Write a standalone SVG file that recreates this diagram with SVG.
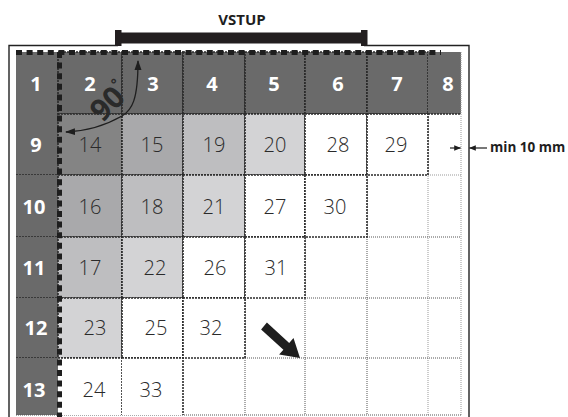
<svg xmlns="http://www.w3.org/2000/svg" width="568" height="417" viewBox="0 0 568 417">
<defs>
<style>
.hd{fill:#6a6a6a}
.c1{fill:#848484}
.c2{fill:#a9a9ab}
.c3{fill:#bebec0}
.c4{fill:#d3d3d5}
.c5{fill:#ffffff}
.perf{fill:none;stroke:#2a2a2a;stroke-width:1.6;stroke-dasharray:2 1}
.dot{fill:none;stroke:#555;stroke-width:1;stroke-dasharray:1 1}
.lt{fill:none;stroke:#999;stroke-width:1;stroke-dasharray:1 1}
.thick{fill:none;stroke:#1e1e1e;stroke-width:5;stroke-dasharray:6 4.6}
.hn{font-family:"Open Sans","Liberation Sans",sans-serif;font-weight:700;font-size:20px;fill:#ffffff;text-anchor:middle}
.n{font-family:"Open Sans","Liberation Sans",sans-serif;font-weight:300;font-size:20px;fill:#2a2a2a;text-anchor:middle}
.lbl{font-family:"Open Sans","Liberation Sans",sans-serif;font-weight:700;fill:#1e1e1e}
</style>
<marker id="ah" viewBox="0 0 10 10" refX="9" refY="5" markerWidth="7" markerHeight="7" orient="auto-start-reverse" markerUnits="userSpaceOnUse">
<path d="M0,1 L10,5 L0,9 z" fill="#1e1e1e"/>
</marker>
<marker id="ah2" viewBox="0 0 10 10" refX="9" refY="5" markerWidth="10" markerHeight="10" orient="auto-start-reverse" markerUnits="userSpaceOnUse">
<path d="M0,1.5 L10,5 L0,8.5 z" fill="#1e1e1e"/>
</marker>
</defs>
<rect width="568" height="417" fill="#ffffff"/>

<!-- frame and entry bar -->
<g id="frame">
<path d="M9,417 V45.5 H118 M364,45.5 H469 V417" fill="none" stroke="#222" stroke-width="1.4"/>
<rect x="118" y="32.5" width="246" height="11" fill="#231f20"/>
<rect x="115" y="30" width="6.5" height="16" fill="#231f20"/>
<rect x="361" y="30" width="6.5" height="16" fill="#231f20"/>
<text x="242" y="25" class="lbl" text-anchor="middle" font-size="15">VSTUP</text>
</g>

<!-- header row -->
<g id="h1"><rect x="16" y="52" width="42" height="62" class="hd"/><text x="36" y="91" class="hn">1</text></g>
<g id="h2"><rect x="58" y="52" width="64" height="62" class="hd"/><rect x="58" y="52" width="64" height="62" class="perf"/><text x="90" y="91" class="hn">2</text></g>
<g id="h3"><rect x="122" y="52" width="61" height="62" class="hd"/><rect x="122" y="52" width="61" height="62" class="perf"/><text x="153" y="91" class="hn">3</text></g>
<g id="h4"><rect x="183" y="52" width="62" height="62" class="hd"/><rect x="183" y="52" width="62" height="62" class="perf"/><text x="212" y="91" class="hn">4</text></g>
<g id="h5"><rect x="245" y="52" width="60" height="62" class="hd"/><rect x="245" y="52" width="60" height="62" class="perf"/><text x="274" y="91" class="hn">5</text></g>
<g id="h6"><rect x="305" y="52" width="62" height="62" class="hd"/><rect x="305" y="52" width="62" height="62" class="perf"/><text x="338" y="91" class="hn">6</text></g>
<g id="h7"><rect x="367" y="52" width="61" height="62" class="hd"/><rect x="367" y="52" width="61" height="62" class="perf"/><text x="397" y="91" class="hn">7</text></g>
<g id="h8"><rect x="428" y="52" width="33" height="62" class="hd"/><path d="M428,114 H461" class="perf"/><text x="448" y="91" class="hn">8</text></g>

<!-- left column -->
<g id="r9"><rect x="16" y="114" width="42" height="61" class="hd"/><path d="M16,175 H58" class="perf"/><text x="36" y="152" class="hn">9</text></g>
<g id="r10"><rect x="16" y="175" width="42" height="62" class="hd"/><path d="M16,237 H58" class="perf"/><text x="34" y="214" class="hn">10</text></g>
<g id="r11"><rect x="16" y="237" width="42" height="61" class="hd"/><path d="M16,298 H58" class="perf"/><text x="34" y="275" class="hn">11</text></g>
<g id="r12"><rect x="16" y="298" width="42" height="60" class="hd"/><path d="M16,358 H58" class="perf"/><text x="36" y="335" class="hn">12</text></g>
<g id="r13"><rect x="16" y="358" width="42" height="57" class="hd"/><text x="34" y="397" class="hn">13</text></g>

<!-- empty area dotted grid -->
<g id="empty">
<path d="M428,114 V415 M461,52 V415 M428,175 H461" class="lt"/>
<path d="M367,175 V415 M305,237 V415 M245,298 V415 M367,237 H461 M305,298 H461 M245,358 H461 M16,415 H461" class="dot"/>
</g>

<!-- numbered cells -->
<g id="c14"><rect x="58" y="114" width="64" height="61" class="c1"/><rect x="58" y="114" width="64" height="61" class="perf"/><text x="90" y="152" class="n">14</text></g>
<g id="c15"><rect x="122" y="114" width="61" height="61" class="c2"/><rect x="122" y="114" width="61" height="61" class="perf"/><text x="152" y="152" class="n">15</text></g>
<g id="c19"><rect x="183" y="114" width="62" height="61" class="c3"/><rect x="183" y="114" width="62" height="61" class="perf"/><text x="214" y="152" class="n">19</text></g>
<g id="c20"><rect x="245" y="114" width="60" height="61" class="c4"/><rect x="245" y="114" width="60" height="61" class="perf"/><text x="275" y="152" class="n">20</text></g>
<g id="c28"><rect x="305" y="114" width="62" height="61" class="c5"/><rect x="305" y="114" width="62" height="61" class="perf"/><text x="338" y="152" class="n">28</text></g>
<g id="c29"><rect x="367" y="114" width="61" height="61" class="c5"/><rect x="367" y="114" width="61" height="61" class="perf"/><text x="396" y="152" class="n">29</text></g>

<g id="c16"><rect x="58" y="175" width="64" height="62" class="c2"/><rect x="58" y="175" width="64" height="62" class="perf"/><text x="90" y="214" class="n">16</text></g>
<g id="c18"><rect x="122" y="175" width="61" height="62" class="c3"/><rect x="122" y="175" width="61" height="62" class="perf"/><text x="152" y="214" class="n">18</text></g>
<g id="c21"><rect x="183" y="175" width="62" height="62" class="c4"/><rect x="183" y="175" width="62" height="62" class="perf"/><text x="214" y="214" class="n">21</text></g>
<g id="c27"><rect x="245" y="175" width="60" height="62" class="c5"/><rect x="245" y="175" width="60" height="62" class="perf"/><text x="275" y="214" class="n">27</text></g>
<g id="c30"><rect x="305" y="175" width="62" height="62" class="c5"/><rect x="305" y="175" width="62" height="62" class="perf"/><text x="335" y="214" class="n">30</text></g>

<g id="c17"><rect x="58" y="237" width="64" height="61" class="c3"/><rect x="58" y="237" width="64" height="61" class="perf"/><text x="90" y="275" class="n">17</text></g>
<g id="c22"><rect x="122" y="237" width="61" height="61" class="c4"/><rect x="122" y="237" width="61" height="61" class="perf"/><text x="155" y="275" class="n">22</text></g>
<g id="c26"><rect x="183" y="237" width="62" height="61" class="c5"/><rect x="183" y="237" width="62" height="61" class="perf"/><text x="215" y="275" class="n">26</text></g>
<g id="c31"><rect x="245" y="237" width="60" height="61" class="c5"/><rect x="245" y="237" width="60" height="61" class="perf"/><text x="276" y="275" class="n">31</text></g>

<g id="c23"><rect x="58" y="298" width="64" height="60" class="c4"/><rect x="58" y="298" width="64" height="60" class="perf"/><text x="95" y="335" class="n">23</text></g>
<g id="c25"><rect x="122" y="298" width="61" height="60" class="c5"/><rect x="122" y="298" width="61" height="60" class="perf"/><text x="156" y="335" class="n">25</text></g>
<g id="c32"><rect x="183" y="298" width="62" height="60" class="c5"/><rect x="183" y="298" width="62" height="60" class="perf"/><text x="211" y="335" class="n">32</text></g>

<g id="c24"><rect x="58" y="358" width="64" height="57" class="c5"/><path d="M58,358 H122 V415" class="perf"/><text x="94" y="397" class="n">24</text></g>
<g id="c33"><rect x="122" y="358" width="61" height="57" class="c5"/><path d="M122,358 H183 V415" class="perf"/><text x="151" y="397" class="n">33</text></g>

<!-- thick perforation lines -->
<g id="perf-lines">
<path d="M16,52.5 H441" class="thick"/>
<path d="M59.5,52 V417" class="thick"/>
</g>

<!-- connectors / annotations -->
<g id="connectors">
<path d="M138,61 C138,100 132,110 122,116 C108,124 90,131 66,132" fill="none" stroke="#1e1e1e" stroke-width="1.3" marker-start="url(#ah2)" marker-end="url(#ah2)"/>
<path d="M450,148 H460.5" fill="none" stroke="#1e1e1e" stroke-width="1.2" marker-end="url(#ah)"/>
<path d="M487,148 H469.5" fill="none" stroke="#1e1e1e" stroke-width="1.2" marker-end="url(#ah)"/>
<polygon points="266.9,322.6 289.2,342.9 293.5,338 300,358 279.1,354.6 283.4,349.7 261.1,329.4" fill="#1e1e1e"/>
</g>

<text x="109" y="112" transform="rotate(-45 109 101)" text-anchor="middle" font-family="Open Sans, Liberation Sans, sans-serif" font-weight="700" font-size="30" fill="#2a2a2a">90<tspan font-size="14" dy="-14">°</tspan></text>
<text x="490" y="152" class="lbl" font-size="13.5">min 10 mm</text>
</svg>
